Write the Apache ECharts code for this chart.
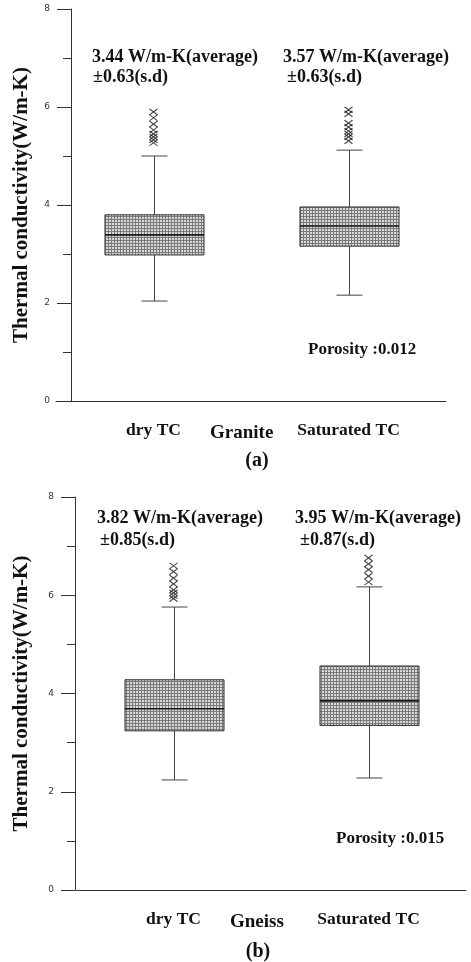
<!DOCTYPE html>
<html>
<head>
<meta charset="utf-8">
<script src="https://cdn.jsdelivr.net/npm/echarts@6/dist/echarts.min.js"></script>
<style>
  html, body { margin: 0; padding: 0; background: #fff; }
  #chart { width: 471px; height: 962px; }
</style>
</head>
<body>
<div id="chart"></div>
<script>
// Categories shown on both panels
const categories = ['dry TC', 'Saturated TC'];

// Five-number summaries [min, Q1, median, Q3, max] for each category
const graniteBoxes = [
  [2.04, 2.98, 3.39, 3.80, 5.00],
  [2.16, 3.16, 3.57, 3.96, 5.12]
];
const gneissBoxes = [
  [2.24, 3.24, 3.69, 4.28, 5.76],
  [2.28, 3.35, 3.85, 4.56, 6.17]
];

// Outlying measurements above the upper whisker
const graniteOutliersDry = [5.90, 5.78, 5.65, 5.53, 5.45, 5.39, 5.33, 5.27];
const graniteOutliersSat = [5.94, 5.86, 5.67, 5.59, 5.51, 5.45, 5.39, 5.31];
const gneissOutliersDry = [6.60, 6.48, 6.35, 6.23, 6.11, 6.05, 5.99, 5.93];
const gneissOutliersSat = [6.76, 6.64, 6.52, 6.39, 6.27];

// Summary statistics printed above each box
const graniteMean = [3.44, 3.57];
const graniteSd = [0.63, 0.63];
const gneissMean = [3.82, 3.95];
const gneissSd = [0.85, 0.87];
const porosity = ['0.012', '0.015'];

// Value axis ticks
const yTicks = [0, 2, 4, 6, 8];

const SERIF = '"Liberation Serif", "Times New Roman", serif';

// Cross-hatched grey fill for the boxes
const tile = document.createElement('canvas');
tile.width = 3; tile.height = 3;
const tg = tile.getContext('2d');
tg.fillStyle = '#d8d8d8'; tg.fillRect(0, 0, 3, 3);
tg.fillStyle = '#7a7a7a'; tg.fillRect(0, 0, 3, 1); tg.fillRect(0, 0, 1, 3);
const hatch = { image: tile, repeat: 'repeat' };

function renderBox(params, api) {
  const i = api.value(0);
  const lo = api.coord([i, api.value(1)]);
  const q1 = api.coord([i, api.value(2)]);
  const med = api.coord([i, api.value(3)]);
  const q3 = api.coord([i, api.value(4)]);
  const hi = api.coord([i, api.value(5)]);
  const band = api.size([1, 0])[0];
  const half = band * 0.254;
  const cap = 13;
  const cx = Math.round(lo[0]) + 0.5;
  const wStyle = { stroke: '#444', lineWidth: 1 };
  return {
    type: 'group',
    children: [
      { type: 'line', shape: { x1: cx, y1: hi[1], x2: cx, y2: q3[1] }, style: wStyle },
      { type: 'line', shape: { x1: cx, y1: q1[1], x2: cx, y2: lo[1] }, style: wStyle },
      { type: 'line', shape: { x1: cx - cap, y1: hi[1], x2: cx + cap, y2: hi[1] }, style: wStyle },
      { type: 'line', shape: { x1: cx - cap, y1: lo[1], x2: cx + cap, y2: lo[1] }, style: wStyle },
      { type: 'rect', shape: { x: cx - half, y: q3[1], width: 2 * half, height: q1[1] - q3[1] },
        style: { fill: hatch, stroke: '#333', lineWidth: 1 } },
      { type: 'line', shape: { x1: cx - half, y1: med[1], x2: cx + half, y2: med[1] },
        style: { stroke: '#1a1a1a', lineWidth: 1.6 } }
    ]
  };
}

function boxData(boxes) {
  return boxes.map((b, i) => [i].concat(b));
}
function outlierData(dry, sat) {
  return dry.map(v => [0, v]).concat(sat.map(v => [1, v]));
}

function xAxisFor(gridIndex) {
  return {
    type: 'category', gridIndex, data: categories, boundaryGap: true,
    axisLine: { lineStyle: { color: '#333', width: 1 } },
    axisTick: { alignWithLabel: true, length: 13, lineStyle: { color: '#333' } },
    axisLabel: { margin: 20, color: '#111', fontFamily: SERIF, fontWeight: 'bold', fontSize: 17.5 },
    splitLine: { show: false }
  };
}
function yAxisFor(gridIndex, offset, nameGap) {
  return {
    type: 'value', gridIndex, min: yTicks[0], max: yTicks[yTicks.length - 1], interval: 2,
    offset,
    name: 'Thermal conductivity(W/m-K)', nameLocation: 'middle', nameGap,
    nameMoveOverlap: false,
    nameTextStyle: { color: '#111', fontFamily: SERIF, fontWeight: 'bold', fontSize: 21 },
    axisLine: { show: true, lineStyle: { color: '#333', width: 1 } },
    axisTick: { show: true, length: 14, lineStyle: { color: '#333' } },
    minorTick: { show: true, splitNumber: 2, length: 8, lineStyle: { color: '#333' } },
    axisLabel: { margin: 21, color: '#333', fontFamily: 'DejaVu Sans, sans-serif', fontSize: 9 },
    splitLine: { show: false }
  };
}

const crossSymbol = 'path://M0,0L8,8M8,0L0,8';
function outlierSeries(idx, data) {
  return {
    type: 'scatter', xAxisIndex: idx, yAxisIndex: idx, data,
    symbol: crossSymbol, symbolSize: [8, 6],
    itemStyle: { color: 'none', borderColor: '#111', borderWidth: 1.1 },
    silent: true, z: 5
  };
}

function txt(x, y, text, size, align) {
  return {
    type: 'text', x, y,
    style: { text, fill: '#111', font: 'bold ' + size + 'px ' + SERIF,
             textAlign: align || 'left', textVerticalAlign: 'middle' }
  };
}
const fmt = v => v.toFixed(2);

const chart = echarts.init(document.getElementById('chart'), null, { renderer: 'canvas' });
chart.setOption({
  animation: false,
  backgroundColor: '#fff',
  grid: [
    { left: 56, top: 9, width: 390, height: 392, outerBoundsMode: 'none', containLabel: false },
    { left: 76, top: 497, width: 390, height: 393, outerBoundsMode: 'none', containLabel: false }
  ],
  xAxis: [xAxisFor(0), xAxisFor(1)],
  yAxis: [yAxisFor(0, -15, 39), yAxisFor(1, 1, 43)],
  series: [
    { type: 'custom', xAxisIndex: 0, yAxisIndex: 0, renderItem: renderBox,
      data: boxData(graniteBoxes), encode: { x: 0, y: [1, 2, 3, 4, 5] }, silent: true },
    { type: 'custom', xAxisIndex: 1, yAxisIndex: 1, renderItem: renderBox,
      data: boxData(gneissBoxes), encode: { x: 0, y: [1, 2, 3, 4, 5] }, silent: true },
    outlierSeries(0, outlierData(graniteOutliersDry, graniteOutliersSat)),
    outlierSeries(1, outlierData(gneissOutliersDry, gneissOutliersSat))
  ],
  graphic: [
    txt(92, 57, fmt(graniteMean[0]) + ' W/m-K(average)', 18),
    txt(93, 77, '\u00b1' + fmt(graniteSd[0]) + '(s.d)', 18),
    txt(283, 57, fmt(graniteMean[1]) + ' W/m-K(average)', 18),
    txt(287, 77, '\u00b1' + fmt(graniteSd[1]) + '(s.d)', 18),
    txt(308, 350, 'Porosity :' + porosity[0], 17),
    txt(210, 433, 'Granite', 19),
    txt(257, 461, '(a)', 20, 'center'),

    txt(97, 518, fmt(gneissMean[0]) + ' W/m-K(average)', 18),
    txt(100, 540, '\u00b1' + fmt(gneissSd[0]) + '(s.d)', 18),
    txt(295, 518, fmt(gneissMean[1]) + ' W/m-K(average)', 18),
    txt(300, 540, '\u00b1' + fmt(gneissSd[1]) + '(s.d)', 18),
    txt(336, 839, 'Porosity :' + porosity[1], 17),
    txt(230, 922, 'Gneiss', 19),
    txt(258, 952, '(b)', 20, 'center')
  ]
});
</script>
</body>
</html>
